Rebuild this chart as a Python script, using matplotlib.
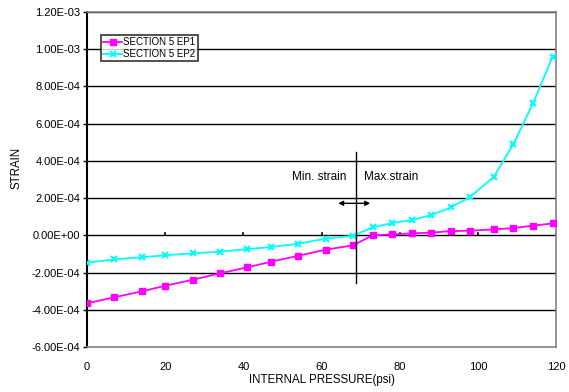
import matplotlib.pyplot as plt
import numpy as np

# pressure readings (psi) and strains
pressure = [0, 7, 14, 20, 27, 34, 41, 47, 54, 61, 68, 73, 78, 83, 88, 93, 98, 104, 109, 114, 119]
ep1 = [-3.65e-4, -3.33e-4, -3.01e-4, -2.71e-4, -2.39e-4, -2.04e-4, -1.72e-4, -1.42e-4, -1.10e-4,
       -0.77e-4, -0.54e-4, 0.0, 0.05e-4, 0.11e-4, 0.14e-4, 0.23e-4, 0.25e-4, 0.32e-4, 0.39e-4,
       0.52e-4, 0.64e-4]
ep2 = [-1.47e-4, -1.29e-4, -1.18e-4, -1.07e-4, -0.97e-4, -0.88e-4, -0.74e-4, -0.63e-4, -0.45e-4,
       -0.18e-4, -0.02e-4, 0.43e-4, 0.66e-4, 0.82e-4, 1.09e-4, 1.50e-4, 2.07e-4, 3.15e-4, 4.91e-4,
       7.09e-4, 9.60e-4]
yticks = np.arange(-6e-4, 1.21e-3, 2e-4)
xticks = [0, 20, 40, 60, 80, 100, 120]

plt.rcParams['font.family'] = ['Liberation Sans', 'DejaVu Sans']

fig = plt.figure(figsize=(5.69, 3.92), dpi=100)
ax = fig.add_axes([0.1529, 0.1148, 0.8251, 0.8546])

for yv in yticks[1:]:
    ax.axhline(yv, color='black', lw=1.0, zorder=1)

ax.plot(pressure, ep1, color='#ff00ff', marker='s', markersize=4, lw=1.3,
        label='SECTION 5 EP1', zorder=3)
ax.plot(pressure, ep2, color='#00ffff', marker='x', markersize=5, mew=1.5, lw=1.3,
        label='SECTION 5 EP2', zorder=3)

# x ticks drawn on the zero line
for xv in xticks[1:]:
    ax.plot([xv, xv], [0, 0.13e-4], color='black', lw=1.2, zorder=2)

# min / max strain marker
ax.plot([68.8, 68.8], [-2.58e-4, 4.49e-4], color='black', lw=1.0, zorder=4)
ax.annotate('', xy=(64.2, 1.72e-4), xytext=(72.4, 1.72e-4),
            arrowprops=dict(arrowstyle='<|-|>', color='black', lw=1.0,
                            mutation_scale=7, shrinkA=0, shrinkB=0))
ax.text(66.3, 3.15e-4, 'Min. strain', ha='right', va='center', fontsize=8.5)
ax.text(70.7, 3.15e-4, 'Max.strain', ha='left', va='center', fontsize=8.5)

ax.set_xlim(0, 120)
ax.set_ylim(-6e-4, 1.2e-3)
ax.set_xticks(xticks)
ax.set_yticks(yticks)
ax.set_yticklabels(['%.2E' % v if abs(v) > 1e-12 else '0.00E+00' for v in yticks])
ax.tick_params(axis='y', length=3, width=1, labelsize=8, pad=2)
ax.tick_params(axis='x', length=0, labelsize=8, pad=11)

ax.spines['left'].set_color('black')
ax.spines['left'].set_linewidth(1.5)
for s in ['top', 'right', 'bottom']:
    ax.spines[s].set_color('#808080')
    ax.spines[s].set_linewidth(1.2)

ax.set_xlabel('INTERNAL PRESSURE(psi)', fontsize=8.3, labelpad=1)
ax.set_ylabel('STRAIN', fontsize=8.3)
ax.yaxis.set_label_coords(-0.137, 0.534)

leg = ax.legend(loc='upper left', bbox_to_anchor=(0.03, 0.93), fontsize=7,
                frameon=True, fancybox=False, edgecolor='black', handlelength=2.0,
                borderpad=0.2, labelspacing=0.2, handletextpad=0.1, borderaxespad=0)
leg.get_frame().set_linewidth(1.2)
leg.set_zorder(5)

fig.savefig('out.png', dpi=100)
